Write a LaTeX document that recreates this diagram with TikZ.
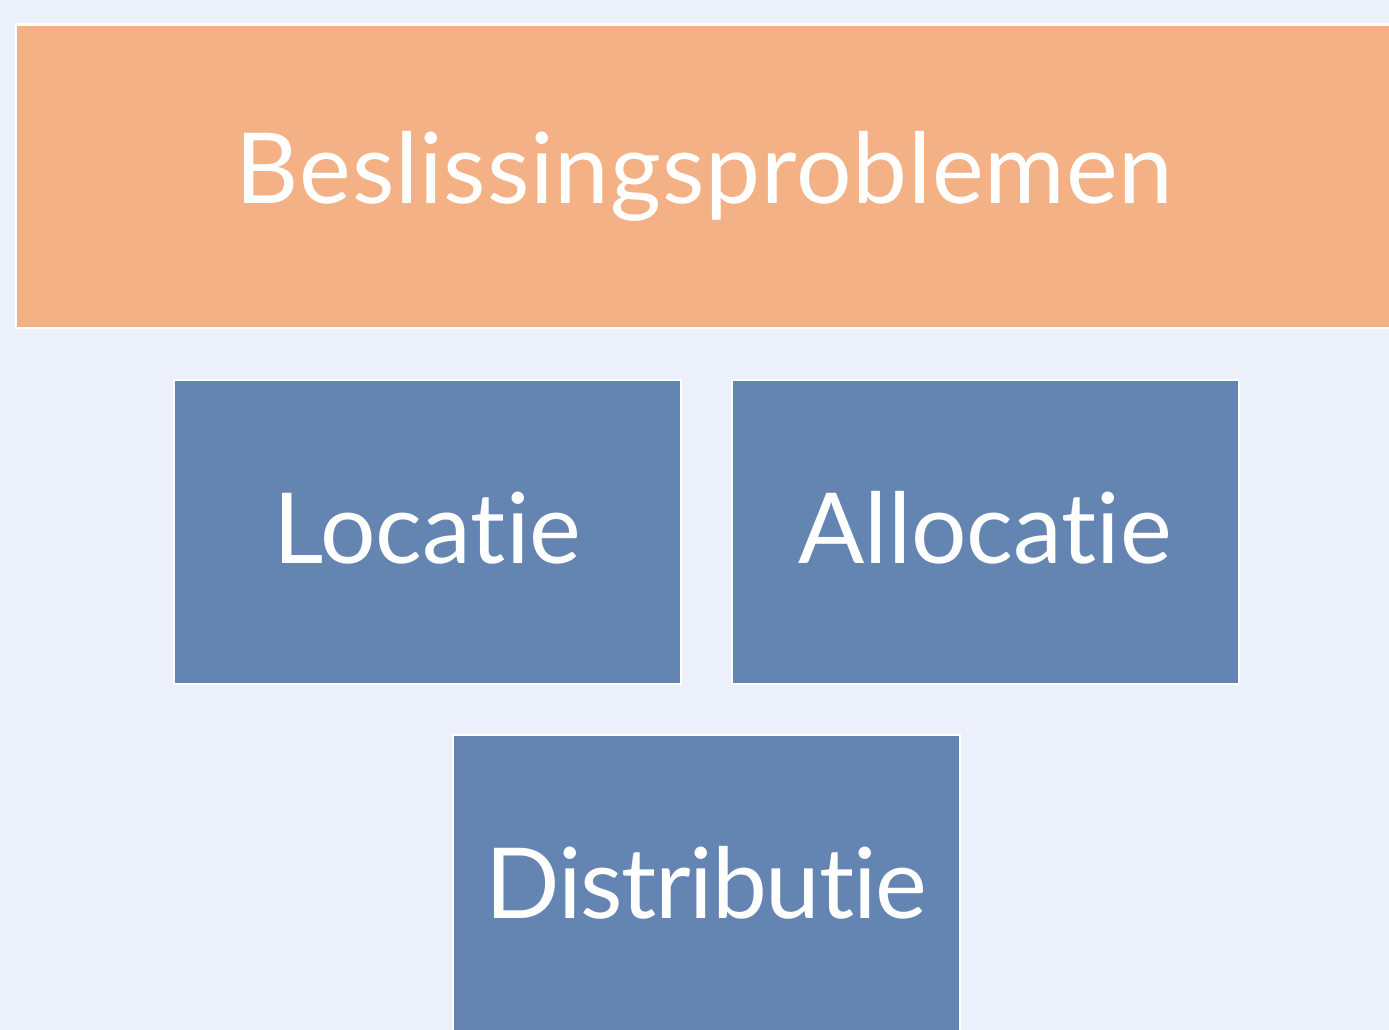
\documentclass[tikz,border=0pt]{standalone}
\usepackage{fontspec}
\setmainfont[Ligatures=NoCommon]{Lato}
\definecolor{bgc}{HTML}{EBF0FB}
\definecolor{orc}{HTML}{F3B185}
\definecolor{blc}{HTML}{6485B1}
\tikzset{
  boxbase/.style={draw=white, line width=2.5pt, text=white, inner sep=0pt, anchor=north west,
    font=\fontsize{98}{98}\selectfont},
  topbox/.style={boxbase, fill=orc, minimum width=1390pt, minimum height=303pt},
  subbox/.style={boxbase, fill=blc, minimum width=507pt, minimum height=304pt},
}
\begin{document}
\begin{tikzpicture}[x=1pt,y=1pt]
\useasboundingbox (0,0) rectangle (1389,-1030);
\clip (0,0) rectangle (1389,-1030);
\fill[bgc] (0,0) rectangle (1389,-1030);
\node[topbox] (top) at (14.5,-23.5) {\hspace*{-12pt}\raisebox{2pt}{\addfontfeature{LetterSpace=0.9}Beslissingsproblemen}};
\node[subbox] (loc) at (172.5,-378.5) {\raisebox{9pt}{Locatie}};
\node[subbox] (alloc) at (730.5,-378.5) {\raisebox{9pt}{Allocatie}};
\node[subbox] (dist) at (451.5,-733.5) {\raisebox{8pt}{\addfontfeature{LetterSpace=-1.3}Distributie}};
\end{tikzpicture}
\end{document}
